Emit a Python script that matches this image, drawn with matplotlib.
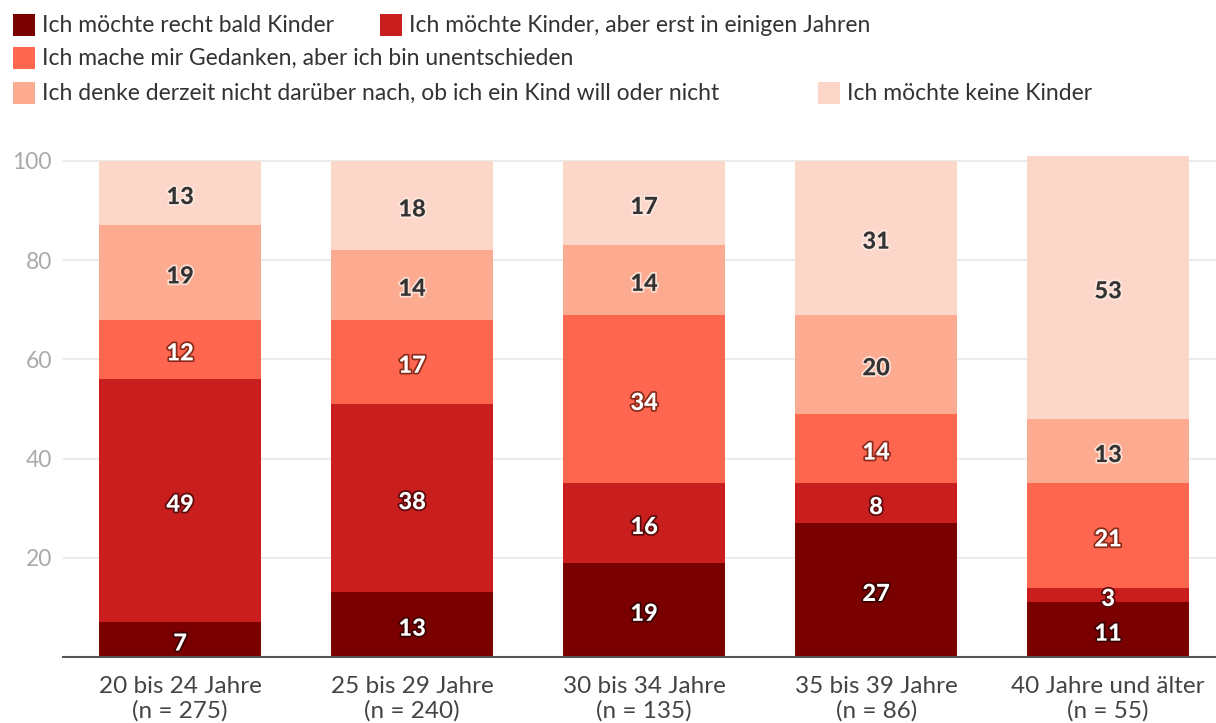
import matplotlib.pyplot as plt
import matplotlib.patheffects as pe
from matplotlib.patches import Rectangle
import numpy as np

plt.rcParams['font.family'] = ['Lato', 'DejaVu Sans']

groups = ["20 bis 24 Jahre\n(n = 275)", "25 bis 29 Jahre\n(n = 240)", "30 bis 34 Jahre\n(n = 135)",
          "35 bis 39 Jahre\n(n = 86)", "40 Jahre und älter\n(n = 55)"]
series_names = ["Ich möchte recht bald Kinder",
                "Ich möchte Kinder, aber erst in einigen Jahren",
                "Ich mache mir Gedanken, aber ich bin unentschieden",
                "Ich denke derzeit nicht darüber nach, ob ich ein Kind will oder nicht",
                "Ich möchte keine Kinder"]
bald = [7, 13, 19, 27, 11]
spaeter = [49, 38, 16, 8, 3]
unentschieden = [12, 17, 34, 14, 21]
nicht_nach = [19, 14, 14, 20, 13]
keine = [13, 18, 17, 31, 53]
series = [bald, spaeter, unentschieden, nicht_nach, keine]

colors = ["#7a0000", "#c81e1e", "#ff6650", "#fcab90", "#fdd6ca"]
label_colors = ["white", "white", "white", "#333333", "#333333"]
stroke_colors = ["#3a0000", "#5a0a0a", "#8a2a1a", "#fde0d5", "#fde8e0"]

fig = plt.figure(figsize=(12.16, 7.23), dpi=100)
ax = fig.add_axes([63 / 1216, 1 - 657 / 723, (1216 - 63) / 1216, (657 - 140) / 723])

x = np.arange(len(groups))
bottom = np.zeros(len(groups))
for vals, col, lc, sc in zip(series, colors, label_colors, stroke_colors):
    vals = np.array(vals, dtype=float)
    ax.bar(x, vals, bottom=bottom, width=0.70, color=col, zorder=3)
    for xi, b, v in zip(x, bottom, vals):
        ax.text(xi, b + v / 2 - 0.7, f"{int(v)}", ha="center", va="center", fontsize=17,
                fontweight="black", color=lc, zorder=4,
                path_effects=[pe.withStroke(linewidth=2.5, foreground=sc)])
    bottom += vals

ax.set_xlim(-0.505, 4.465)
ax.set_ylim(0, 104.2)
ax.set_yticks([20, 40, 60, 80, 100])
ax.yaxis.grid(True, color="#e6e6e6", linewidth=1.2, zorder=0)
ax.set_xticks(x)
ax.set_xticklabels(groups, fontsize=17.5, color="#444444", linespacing=1.15)
ax.tick_params(axis="y", length=0, labelsize=16.5, labelcolor="#aaaaaa", pad=8)
ax.tick_params(axis="x", length=0, pad=14)
for s in ["top", "right", "left"]:
    ax.spines[s].set_visible(False)
ax.spines["bottom"].set_color("#555555")
ax.spines["bottom"].set_linewidth(1.5)
ax.spines["bottom"].set_zorder(5)

# legend drawn by hand (three rows)
W, H = 1216, 723
legend_pos = [(13, 25), (380, 25), (13, 58), (13, 93), (818, 93)]
for name, col, (px, py) in zip(series_names, colors, legend_pos):
    fig.patches.append(Rectangle((px / W, 1 - (py + 11) / H), 22 / W, 22 / H,
                                 transform=fig.transFigure, facecolor=col, edgecolor="none"))
    fig.text((px + 29) / W, 1 - py / H, name, fontsize=16.5, color="#333333", va="center", ha="left")

fig.savefig("out.png", dpi=100)
